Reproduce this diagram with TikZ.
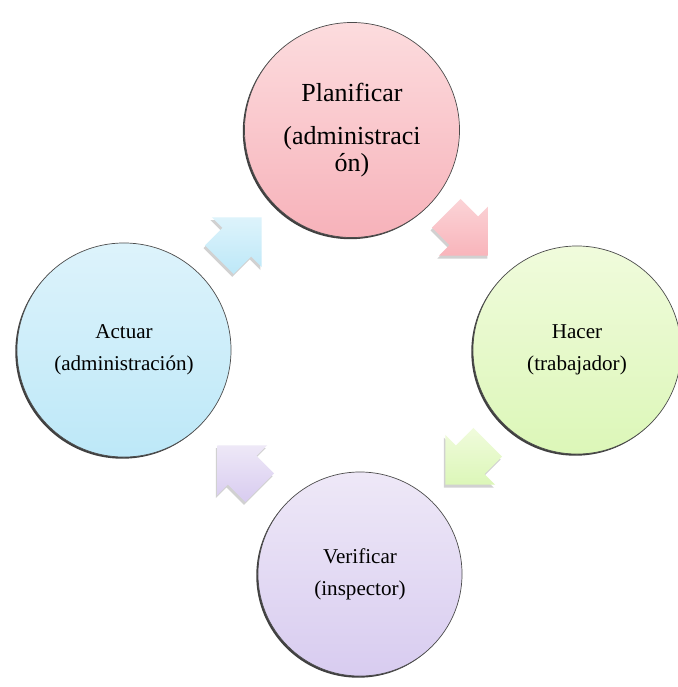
\documentclass[tikz,border=0pt]{standalone}
\usepackage{fontspec}
\setmainfont{Liberation Serif}
\usetikzlibrary{shapes.arrows,shadows}

\definecolor{pinkA}{HTML}{FCDCDE}
\definecolor{pinkB}{HTML}{F7B2BA}
\definecolor{greenA}{HTML}{F0FBDC}
\definecolor{greenB}{HTML}{DCF7B8}
\definecolor{lilaA}{HTML}{EEE8F7}
\definecolor{lilaB}{HTML}{D8CCF0}
\definecolor{cyanA}{HTML}{DDF3FB}
\definecolor{cyanB}{HTML}{BDE8F8}

\begin{document}
\begin{tikzpicture}[x=0.025cm,y=-0.025cm,
 circ/.style={circle,draw=black!70,line width=0.5pt,inner sep=0pt,align=center,
 font=\fontsize{15}{22.5}\selectfont,
 drop shadow={fill=black,opacity=0.75,shadow xshift=-1.2pt,shadow yshift=-1.2pt}},
 arr/.style={single arrow,single arrow tip angle=90,single arrow head extend=0.375cm,
 inner xsep=0pt,inner ysep=0.5cm,minimum height=1.5cm,draw=none,anchor=tip,
 drop shadow={fill=black,opacity=0.18,shadow xshift=-1pt,shadow yshift=-2pt}}]
\useasboundingbox[fill=white] (0,0) rectangle (678,687);
% circles
\node[circ,minimum size=5.375cm,top color=pinkA,bottom color=pinkB,
 font=\fontsize{18.5}{19.5}\selectfont] (plan) at (352,130)
 {Planificar\\[11pt](administraci\\ón)};
\node[circ,minimum size=5.2cm,top color=greenA,bottom color=greenB] (hacer) at (577,350)
 {Hacer\\(trabajador)};
\node[circ,minimum size=5.1cm,top color=lilaA,bottom color=lilaB] (verif) at (360,574)
 {Verificar\\(inspector)};
\node[circ,minimum size=5.35cm,top color=cyanA,bottom color=cyanB] (actuar) at (124,350)
 {Actuar\\(administración)};
% arrows
\node[arr,rotate=-45,top color=pinkA!80!pinkB,bottom color=pinkB!80!pink] (a1) at (489,256) {};
\node[arr,rotate=-135,top color=greenA,bottom color=greenB] (a2) at (445,485) {};
\node[arr,rotate=135,top color=lilaA,bottom color=lilaB] (a3) at (217,445) {};
\node[arr,rotate=45,top color=cyanA,bottom color=cyanB] (a4) at (262,217) {};
\end{tikzpicture}
\end{document}
